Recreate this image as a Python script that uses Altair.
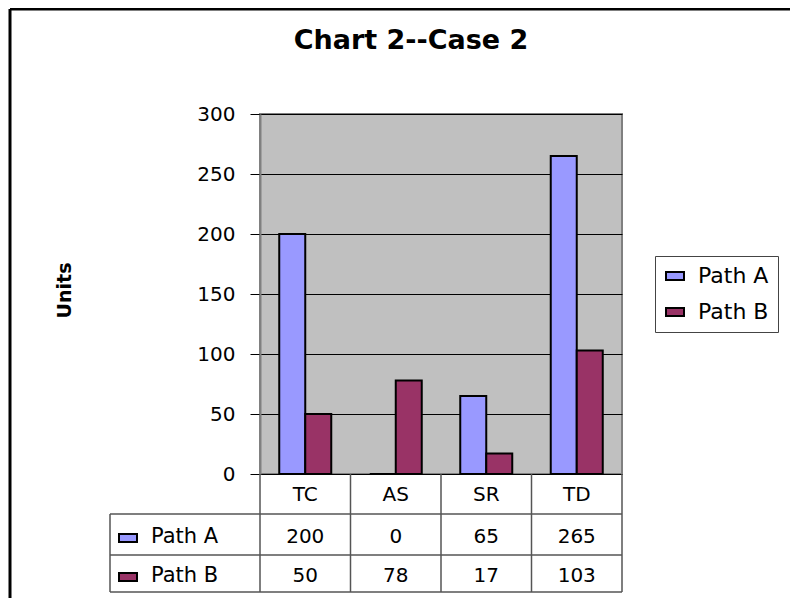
import altair as alt
import pandas as pd

categories = ["TC", "AS", "SR", "TD"]
series = ["Path A", "Path B"]
path_a = [200, 0, 65, 265]
path_b = [50, 78, 17, 103]
colors = ["#9999FF", "#993366"]
y_ticks = [0, 50, 100, 150, 200, 250, 300]
title_text = "Chart 2--Case 2"
y_title = "Units"

rows = []
for s, vals in zip(series, [path_a, path_b]):
    for c, v in zip(categories, vals):
        rows.append({"cat": c, "series": s, "value": v})
df = pd.DataFrame(rows)
cat_df = pd.DataFrame({"cat": categories})
ser_df = pd.DataFrame({"series": series})
one = pd.DataFrame({"k": [0]})

FONT = "DejaVu Sans"
LINE = "#555555"
SWATCH = "M-1,-0.45L1,-0.45L1,0.45L-1,0.45Z"

xs = alt.X("cat:N", sort=categories, scale=alt.Scale(paddingInner=0, paddingOuter=0), axis=None)
color = alt.Color("series:N", sort=series, scale=alt.Scale(domain=series, range=colors),
                  legend=alt.Legend(title=None, orient="none", legendX=395, legendY=142,
                                    strokeColor="#444444", padding=9, symbolType=SWATCH,
                                    symbolSize=324, symbolStrokeColor="black", symbolStrokeWidth=2,
                                    labelFontSize=22, labelFont=FONT, labelOffset=12,
                                    rowPadding=14, labelColor="black"))

frame_top = alt.Chart(one).mark_rule(color="black", strokeWidth=3).encode(
    x=alt.value(-250), x2=alt.value(900), y=alt.value(-105))
frame_left = alt.Chart(one).mark_rule(color="black", strokeWidth=3).encode(
    x=alt.value(-250), y=alt.value(-105), y2=alt.value(800))

bars = alt.Chart(df).mark_bar(stroke="black", strokeWidth=2).encode(
    x=xs,
    xOffset=alt.XOffset("series:N", sort=series, scale=alt.Scale(paddingInner=0, paddingOuter=0.74)),
    y=alt.Y("value:Q", scale=alt.Scale(domain=[0, 300]),
            axis=alt.Axis(values=y_ticks, title=y_title, titleX=-196, titleY=176, titleAngle=270,
                          titleBaseline="middle", titleAlign="center", titleFontSize=19,
                          titleFontWeight="bold", titleFont=FONT, titleColor="black",
                          labelFontSize=20, labelFont=FONT, labelColor="black", labelPadding=15,
                          tickSize=10, tickColor="black", domainColor="#808080", domainWidth=2,
                          grid=True, gridColor="black", gridWidth=1)),
    color=color,
)

title = alt.Chart(pd.DataFrame({"t": [title_text]})).mark_text(
    fontSize=27, fontWeight="bold", font=FONT, color="black", baseline="middle", align="center"
).encode(text="t:N", x=alt.value(151), y=alt.value(-73))

header = alt.Chart(cat_df).mark_text(fontSize=20, font=FONT, color="black", baseline="middle").encode(
    x=xs, text="cat:N", y=alt.value(381))

row_y = [423, 462]
val_layers = []
for s, yy in zip(series, row_y):
    val_layers.append(
        alt.Chart(df).transform_filter(alt.datum.series == s).mark_text(
            fontSize=20, font=FONT, color="black", baseline="middle").encode(
            x=xs, text="value:Q", y=alt.value(yy)))
    val_layers.append(
        alt.Chart(ser_df).transform_filter(alt.datum.series == s).mark_text(
            fontSize=21, font=FONT, color="black", baseline="middle", align="left").encode(
            text="series:N", x=alt.value(-109), y=alt.value(yy)))
    val_layers.append(
        alt.Chart(ser_df).transform_filter(alt.datum.series == s).mark_point(
            shape=SWATCH, size=324, filled=True, stroke="black", strokeWidth=2, opacity=1).encode(
            fill=alt.Fill("series:N", sort=series, scale=alt.Scale(domain=series, range=colors), legend=None),
            x=alt.value(-132), y=alt.value(yy + 1)))

vlines = alt.Chart(cat_df).mark_rule(color=LINE, strokeWidth=1.5).encode(
    x=alt.X("cat:N", sort=categories, bandPosition=0, axis=None), y=alt.value(360), y2=alt.value(478))
right_line = alt.Chart(one).mark_rule(color=LINE, strokeWidth=1.5).encode(
    x=alt.value(362), y=alt.value(360), y2=alt.value(478))
left_line = alt.Chart(one).mark_rule(color=LINE, strokeWidth=1.5).encode(
    x=alt.value(-150), y=alt.value(400), y2=alt.value(478))
hl = []
for yy in [400, 441, 478]:
    hl.append(alt.Chart(one).mark_rule(color=LINE, strokeWidth=1.5).encode(
        x=alt.value(-150), x2=alt.value(362), y=alt.value(yy)))

chart = alt.layer(frame_top, frame_left, bars, title, header, vlines, right_line, left_line,
                  *hl, *val_layers).properties(
    width=362, height=360,
    autosize=alt.AutoSizeParams(type="none"),
    padding={"left": 252, "top": 106, "right": 168, "bottom": 124},
).configure(font=FONT).configure_view(fill="#C0C0C0", stroke="#808080", strokeWidth=2)

chart.save("out.html", embed_options={"renderer": "svg", "actions": False})
